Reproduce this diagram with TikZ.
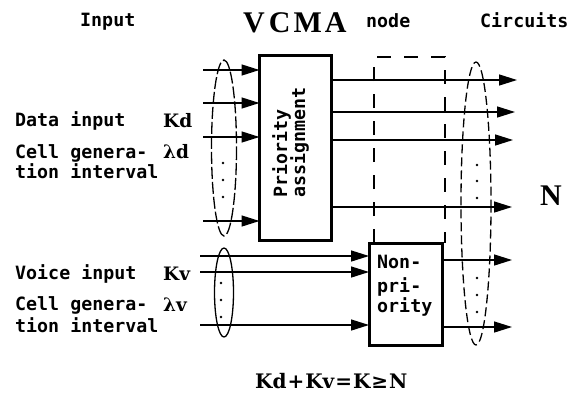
\documentclass[tikz,border=0pt]{standalone}
\usepackage{fontspec}
\setmonofont{DejaVu Sans Mono}
\newfontfamily\kfont{DejaVu Serif}
\newfontfamily\lsfont{Liberation Serif}
\usetikzlibrary{arrows.meta}
\begin{document}
\begin{tikzpicture}[x=1pt,y=-1pt,
  lbl/.style={anchor=base west,inner sep=0pt,font=\fontsize{18.3}{20}\selectfont\ttfamily\bfseries},
  klbl/.style={anchor=base west,inner sep=0pt,font=\fontsize{18.5}{20}\selectfont\kfont\bfseries},
  bigserif/.style={anchor=base west,inner sep=0pt,font=\fontsize{30}{32}\selectfont\lsfont\bfseries},
  blk/.style={draw,line width=3pt,outer sep=0pt,inner sep=0pt},
  arr/.style={line width=1.4pt,-{Triangle[length=18pt,width=11pt]}},
  dotm/.style={fill,circle,inner sep=0pt,minimum size=2.6pt},
]
\useasboundingbox (0,0) rectangle (572,394);

% titles
\node[lbl] (tin) at (80,26) {Input};
\node[bigserif] (tv) at (243,32) {V\hspace{4pt}C\hspace{3pt}M\hspace{3pt}A};
\node[lbl] (tnode) at (366,27) {node};
\node[lbl] (tcirc) at (480,27) {Circuits};

% left labels
\node[lbl] (d1) at (15,126) {Data input};
\node[klbl] (kd) at (163,127) {Kd};
\node[lbl] (d2) at (15,158) {Cell genera-};
\node[klbl] (ld) at (163,158) {λd};
\node[lbl] (d3) at (15,178) {tion interval};
\node[lbl] (v1) at (15,279) {Voice input};
\node[klbl] (kv) at (163,280) {Kv};
\node[lbl] (v2) at (15,310) {Cell genera-};
\node[klbl] (lv) at (163,311) {λv};
\node[lbl] (v3) at (15,332) {tion interval};

% blocks
\node[blk,minimum width=72pt,minimum height=185pt] (pa) at (295.5,147.5) {};
\node[lbl,rotate=90] (pat1) at (287,198) {Priority};
\node[lbl,rotate=90] (pat2) at (305,198) {assignment};

\node[blk,minimum width=73pt,minimum height=102pt] (np) at (405.5,294) {};
\node[lbl] (npt1) at (377,268) {Non-};
\node[lbl] (npt2) at (377,292) {pri-};
\node[lbl] (npt3) at (377,312) {ority};

% dashed VCMA node frame
\coordinate (fl) at (374,57);
\coordinate (fr) at (445,57);
\draw[line width=2.6pt,dash pattern=on 14pt off 13pt] (np.north west -| 374,0) -- (fl) -- (fr) -- (np.north east -| 445,0);

% ellipses
\draw[line width=1.3pt,dash pattern=on 12pt off 3pt] (224,148) ellipse [x radius=12.5, y radius=88];
\draw[line width=1.3pt] (224,292.5) ellipse [x radius=9.5, y radius=44.5];
\draw[line width=1.3pt,dash pattern=on 9pt off 4pt] (476,203.5) ellipse [x radius=15, y radius=141.5];

% dots
\foreach \yy in {163,180,197} \node[dotm] at (223,\yy) {};
\foreach \yy in {283,300,317} \node[dotm] at (221,\yy) {};
\foreach \yy in {165,181,198,278,295,312} \node[dotm] at (477,\yy) {};

% input arrows to priority block
\foreach \yy in {70,103,137,221} {
  \coordinate (s) at (203,\yy);
  \draw[arr] (s) -- (pa.west |- s);
}
% input arrows to non-priority block
\foreach \yy in {256,272,325} {
  \coordinate (s) at (200,\yy);
  \draw[arr] (s) -- (np.west |- s);
}
% outputs
\foreach \yy/\xe in {80/517,112/515,140/513,207/512} {
  \coordinate (e) at (\xe,\yy);
  \draw[arr] (pa.east |- e) -- (e);
}
\foreach \yy in {260,327} {
  \coordinate (e) at (512,\yy);
  \draw[arr] (np.east |- e) -- (e);
}

\node[bigserif] (nn) at (540,205) {N};
\node[anchor=base west,inner sep=0pt,font=\fontsize{20}{22}\selectfont\kfont\bfseries] (eq) at (255,388) {Kd\hspace{1pt}+\hspace{1pt}Kv\hspace{1pt}=\hspace{1pt}K\hspace{1pt}≥\hspace{1pt}N};
\end{tikzpicture}
\end{document}
